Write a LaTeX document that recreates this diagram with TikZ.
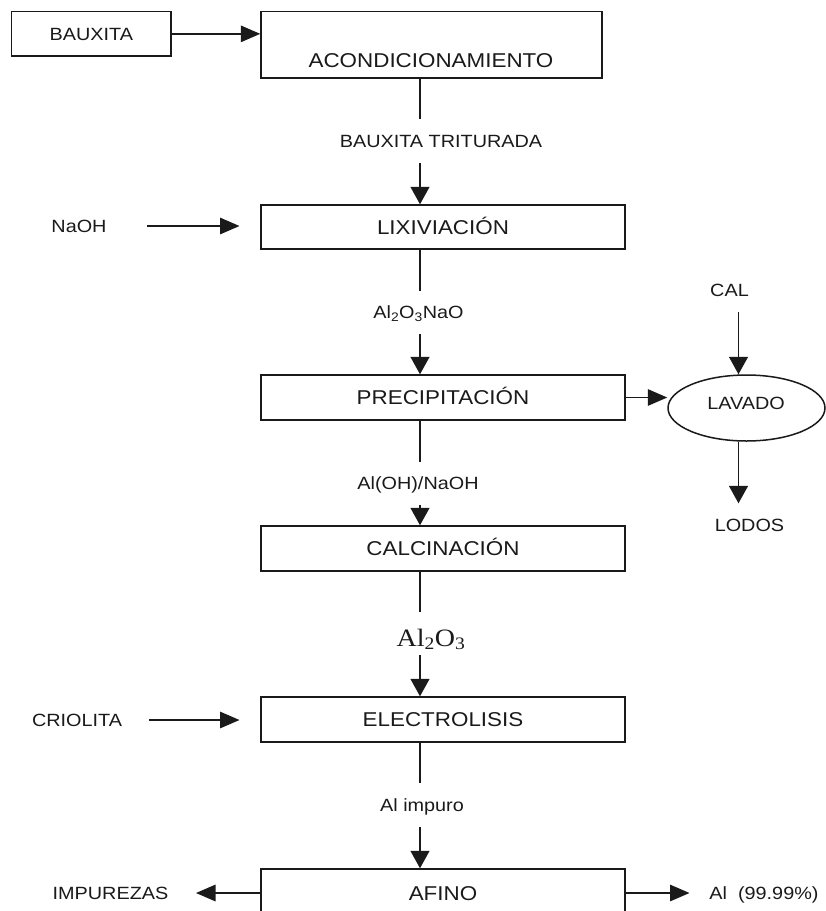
\documentclass[tikz,border=0pt]{standalone}
\usepackage{fontspec}
\setmainfont{Liberation Sans}[FakeStretch=1.12]
\newfontfamily\serifchem{Liberation Serif}[FakeStretch=1.12]
\usetikzlibrary{arrows.meta,shapes.geometric}
\definecolor{ink}{HTML}{1A1A1A}
\newcommand{\lblsize}{\fontsize{17.7pt}{20pt}\selectfont}
\newcommand{\boxsize}{\fontsize{20pt}{23pt}\selectfont}
\begin{document}
\begin{tikzpicture}[x=1pt,y=-1pt,
  every node/.style={text=ink, inner sep=0pt},
  procbox/.style={draw=ink, line width=1.5pt, rectangle, minimum width=364pt, minimum height=45pt, font=\boxsize, text height=14.3pt, text depth=0pt},
  lbl/.style={font=\lblsize, text height=12.7pt, text depth=0pt, minimum height=43pt},
  plain/.style={font=\lblsize, text height=12.7pt, text depth=0pt},
  conn/.style={draw=ink, line width=1.5pt},
  vtip/.style={conn, -{Triangle[length=17.5pt,width=19pt]}},
  htip/.style={conn, -{Triangle[length=19.5pt,width=16.5pt]}}]
\useasboundingbox (0,0) rectangle (826,911);
\clip (0,0) rectangle (826,911);
\fill[white] (0,0) rectangle (826,911);
\coordinate (spine) at (420,0);
\coordinate (lavx) at (738.5,0);

% boxes
\node[procbox, font=\lblsize, text height=12.7pt, minimum width=159.4pt, minimum height=44.3pt] (baux) at (91.3,33.85) {BAUXITA};
\node[procbox, minimum width=341pt, minimum height=66.3pt] (acond) at (431.5,44.85) {};
\node[font=\boxsize, text height=14.3pt, text depth=0pt] (acondtxt) at (431,60) {ACONDICIONAMIENTO};
\node[procbox, minimum height=44pt] (lix) at (443,227) {LIXIVIACIÓN};
\node[procbox] (prec) at (443,397.5) {PRECIPITACIÓN};
\node[procbox] (calc) at (443,548.5) {CALCINACIÓN};
\node[procbox] (elec) at (443,719.5) {ELECTROLISIS};
\node[procbox, minimum height=48pt] (afino) at (443,893) {AFINO};
\node[ellipse, draw=ink, line width=1.5pt, minimum width=157pt, minimum height=66pt] (lav) at (746.5,408) {};
\node[plain] (lavtxt) at (746,403) {LAVADO};

% labels on the main line
\node[lbl] (trit) at (441,141) {BAUXITA TRITURADA};
\node[lbl] (alnao) at (418.5,312.5) {Al\textsubscript{2}O\textsubscript{3}NaO};
\node[lbl] (aloh) at (418,483.5) {Al(OH)/NaOH};
\node[font=\serifchem\fontsize{25pt}{28pt}\selectfont, text height=25pt, text depth=0pt, minimum height=43pt] (al2o3) at (431,633.5) {Al\textsubscript{2}O\textsubscript{3}};
\node[lbl] (alimp) at (422,805) {Al impuro};

% side labels
\node[plain] (naoh) at (79,226) {NaOH};
\node[plain] (criol) at (77,720) {CRIOLITA};
\node[plain] (impur) at (110.5,893) {IMPUREZAS};
\node[plain] (alpure) at (764,893) {Al\ \ (99.99\%)};
\node[lbl] (cal) at (729.5,290) {CAL};
\node[lbl] (lodos) at (749.5,525) {LODOS};

\coordinate (naohs) at (147,226);
\coordinate (naohe) at (239.5,226);
\coordinate (criols) at (149,720);
\coordinate (criole) at (239.5,720);
\coordinate (impend) at (196,893);
\coordinate (alend) at (689.5,893);

% main line
\draw[conn] (acond.south -| spine) -- (trit.north -| spine);
\draw[vtip] (trit.south -| spine) -- (lix.north -| spine);
\draw[conn] (lix.south -| spine) -- (alnao.north -| spine);
\draw[vtip] (alnao.south -| spine) -- (prec.north -| spine);
\draw[conn] (prec.south -| spine) -- (aloh.north -| spine);
\draw[vtip] (aloh.south -| spine) -- (calc.north -| spine);
\draw[conn] (calc.south -| spine) -- (al2o3.north -| spine);
\draw[vtip] (al2o3.south -| spine) -- (elec.north -| spine);
\draw[conn] (elec.south -| spine) -- (alimp.north -| spine);
\draw[vtip] (alimp.south -| spine) -- (afino.north -| spine);

% side arrows
\draw[htip] (baux.east) -- (baux.east -| acond.west);
\draw[htip] (naohs) -- (naohe);
\draw[htip] (criols) -- (criole);
\draw[htip] (prec.east) -- (prec.east -| lav.west);
\draw[vtip] (cal.south -| lavx) -- (lav.north -| lavx);
\draw[vtip] (lav.south -| lavx) -- (lodos.north -| lavx);
\draw[htip] (afino.west) -- (impend);
\draw[htip] (afino.east) -- (alend);
\end{tikzpicture}
\end{document}
